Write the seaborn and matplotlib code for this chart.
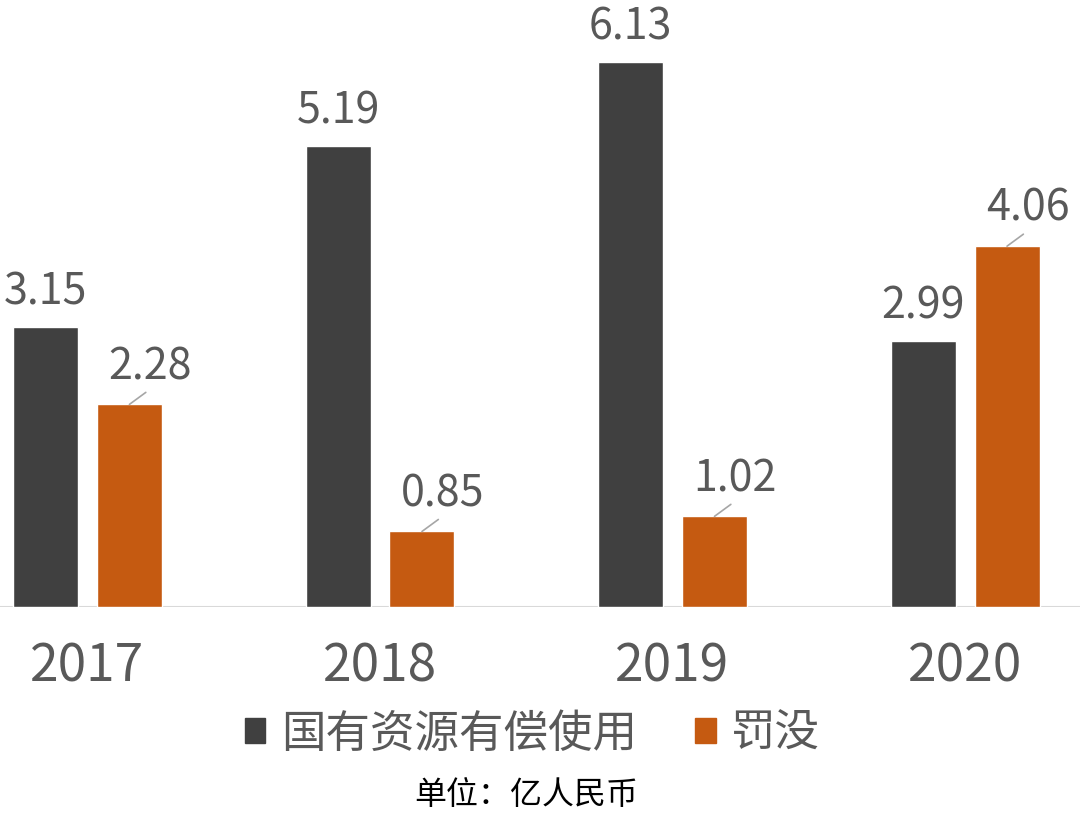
import matplotlib
matplotlib.use('Agg')
import matplotlib.pyplot as plt
import pandas as pd
import seaborn as sns

years = ['2017', '2018', '2019', '2020']
series = ['国有资源有偿使用', '罚没']
youchang = [3.15, 5.19, 6.13, 2.99]
famo = [2.28, 0.85, 1.02, 4.06]
note = '单位：亿人民币'

colors = ['#404040', '#C55A11']
text_grey = '#595959'

df = pd.DataFrame({
    'year': years * 2,
    'value': youchang + famo,
    'series': [series[0]] * 4 + [series[1]] * 4,
})

sns.set_style('white')
plt.rcParams['font.family'] = ['Noto Sans CJK SC', 'DejaVu Sans']

fig = plt.figure(figsize=(10.8, 8.15), dpi=100)
ax = fig.add_axes([0, 0.2552, 1, 0.7448])

sns.barplot(data=df, x='year', y='value', hue='series', palette=colors,
            width=0.574, gap=0.226, saturation=1, ax=ax)

ax.set_xlim(-0.299, 3.393)
ax.set_ylim(0, 6.83)
for s in ax.spines.values():
    s.set_visible(False)
ax.axhline(0, color='#D9D9D9', lw=1.5, zorder=0)
ax.set_yticks([])
ax.set_xlabel('')
ax.set_ylabel('')
ax.tick_params(axis='x', length=0, pad=24, labelsize=37, labelcolor=text_grey)

# labels for the dark bars: straight above
for bar, v in zip(ax.containers[0], youchang):
    ax.annotate(f'{v:.2f}', (bar.get_x() + bar.get_width() / 2, bar.get_height()),
                xytext=(0, 9), textcoords='offset points', ha='center', va='bottom',
                fontsize=31, color=text_grey)

# labels for the orange bars: shifted right with a leader line
for bar, v in zip(ax.containers[1], famo):
    ax.annotate(f'{v:.2f}', (bar.get_x() + bar.get_width() / 2, bar.get_height()),
                xytext=(15, 11), textcoords='offset points', ha='center', va='bottom',
                fontsize=31, color=text_grey,
                arrowprops=dict(arrowstyle='-', color='#A6A6A6', lw=1.2,
                                shrinkA=0, shrinkB=0, relpos=(0.5, 0)))

ax.get_legend().remove()
handles = [plt.Rectangle((0, 0), 1, 1, color=c) for c in colors]
fig.legend(handles, series, loc='center', bbox_to_anchor=(0.493, 0.1),
           ncol=2, frameon=False, fontsize=32, labelcolor=text_grey,
           handlelength=0.47, handleheight=0.47, handletextpad=0.35,
           columnspacing=1.3)

fig.text(0.487, 0.025, note, ha='center', va='center', fontsize=23, color='black')

fig.savefig('out.png', dpi=100)
